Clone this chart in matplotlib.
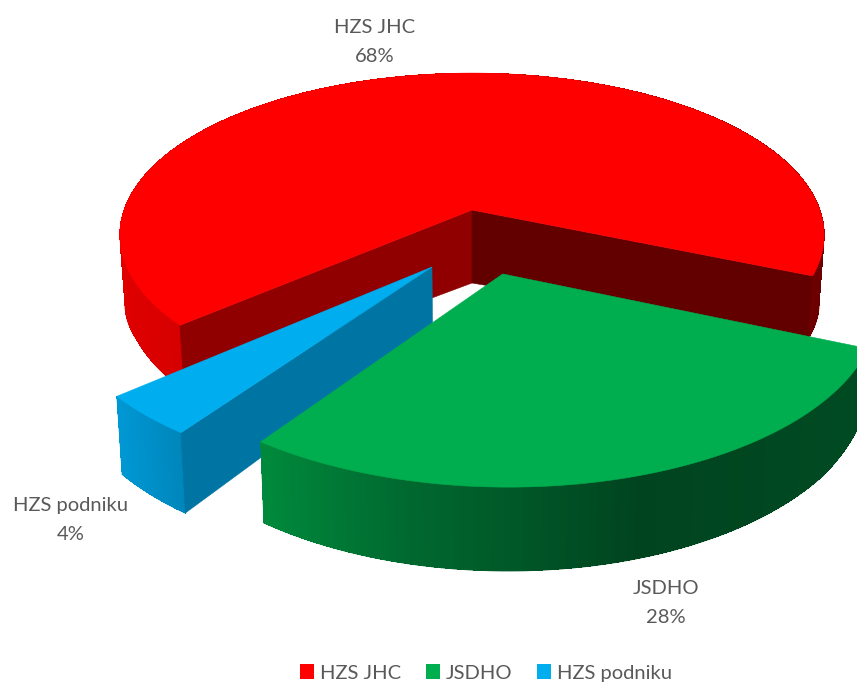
# 3D exploded pie drawn by hand, matplotlib's pie has no real perspective
import numpy as np
import matplotlib.pyplot as plt
from matplotlib.collections import LineCollection, PolyCollection
from matplotlib.colors import to_rgb
from matplotlib.patches import Patch

plt.rcParams['font.family'] = ['Lato', 'DejaVu Sans']

categories = ['HZS JHC', 'JSDHO', 'HZS podniku']
shares = [67.8, 28.4, 3.8]
colors = ['#ff0000', '#00ae4f', '#00aeef']

W, H = 857, 684
CX, CY = 472, 210      # pie centre on the top plane, pixels
R = 348
KR = 158
P = 0.154              # perspective strength
START = 221            # where the first slice starts, clockwise


def project(u, v):
    s = 1 + P * v
    return CX + R * u / s, CY - KR * v / s


def project_low(u, v):
    # bottom plane: same shape pulled in a bit and dropped by a depth depending on v
    x, y = project(u, v)
    d = np.interp(v, [-1.4, -1.0, -0.65, -0.4, 0, 1], [84, 78, 65, 63, 73, 73])
    return CX + (x - CX) * 0.985, y + d


def arc(a0, a1, ou, ov, n=160):
    a = np.radians(np.linspace(a0, a1, n))
    return ou + np.cos(a), ov + np.sin(a)


def shade(xs, stops, cols):
    rgb = np.array([to_rgb(c) for c in cols])
    return np.column_stack([np.interp(xs, stops, rgb[:, i]) for i in range(3)])


def outer_wall(ax, a0, a1, ou, ov, stops, cols):
    # no antialiasing on the quads or they show as stripes, the rim line smooths the edge
    u, v = arc(a0, a1, ou, ov, 400)
    xt, yt = project(u, v)
    xb, yb = project_low(u, v)
    quads = [[(xt[i], yt[i]), (xt[i + 1], yt[i + 1]), (xb[i + 1], yb[i + 1]), (xb[i], yb[i])]
             for i in range(len(u) - 1)]
    fc = shade((xt[:-1] + xt[1:]) / 2, stops, cols)
    ax.add_collection(PolyCollection(quads, facecolors=fc, edgecolors='none', antialiaseds=False))
    rim = np.stack([np.column_stack([xb[:-1], yb[:-1]]), np.column_stack([xb[1:], yb[1:]])], axis=1)
    ax.add_collection(LineCollection(rim, colors=fc, linewidths=0.8, zorder=1))
    ax.plot([xt[0], xb[0]], [yt[0], yb[0]], color=fc[0], lw=0.6, zorder=1)
    ax.plot([xt[-1], xb[-1]], [yt[-1], yb[-1]], color=fc[-1], lw=0.6, zorder=1)


def side_wall(ax, angle, ou, ov, color):
    u = np.array([ou, ou + np.cos(np.radians(angle))])
    v = np.array([ov, ov + np.sin(np.radians(angle))])
    xt, yt = project(u, v)
    xb, yb = project_low(u, v)
    ax.fill([xt[0], xt[1], xb[1], xb[0]], [yt[0], yt[1], yb[1], yb[0]], color=color, lw=0.4)


def top_face(ax, a0, a1, ou, ov, color):
    u, v = arc(a0, a1, ou, ov)
    x, y = project(np.r_[ou, u], np.r_[ov, v])
    ax.fill(x, y, color=color, lw=0.4)


# slice angles from the shares, going clockwise
sweeps = np.array(shares) / sum(shares) * 360
ends = START - np.cumsum(sweeps)
starts = np.r_[START, ends[:-1]]

fig = plt.figure(figsize=(W / 100, H / 100), dpi=100)
ax = fig.add_axes([0, 0, 1, 1])
ax.set_xlim(0, W)
ax.set_ylim(H, 0)
ax.axis('off')

# red, not exploded
outer_wall(ax, ends[0], starts[0], 0, 0, [119, 180, 470, 780, 823],
           ['#e00000', '#d60000', '#b00000', '#800000', '#6a0000'])
side_wall(ax, starts[0], 0, 0, '#900000')
side_wall(ax, ends[0], 0, 0, '#620000')
top_face(ax, ends[0], starts[0], 0, 0, colors[0])

# blue
blue_off = (-0.109, -0.342)
outer_wall(ax, ends[2], starts[2], *blue_off, [117, 181], ['#0098d4', '#0086bb'])
side_wall(ax, starts[2], *blue_off, '#0075a4')
top_face(ax, ends[2], starts[2], *blue_off, colors[2])

# green
green_off = (0.083, -0.381)
outer_wall(ax, ends[1], starts[1], *green_off, [260, 400, 640, 857],
           ['#008a3c', '#006a30', '#00441f', '#004a22'])
top_face(ax, ends[1], starts[1], *green_off, colors[1])

# data labels
label_pos = [(375, 42), (666, 603), (71, 520)]
for name, share, (lx, ly) in zip(categories, shares, label_pos):
    ax.text(lx, ly, f'{name}\n{round(share)}%', ha='center', va='center', fontsize=14.5,
            color='#595959', linespacing=1.8)

handles = [Patch(facecolor=c, edgecolor='none') for c in colors]
fig.legend(handles, categories, loc='center', bbox_to_anchor=(486 / W, 1 - 673 / H), ncol=3,
           frameon=False, fontsize=14.5, labelcolor='#595959', handlelength=0.7,
           handleheight=0.7, handletextpad=0.3, columnspacing=1.2)

fig.savefig('out.png', dpi=100)
